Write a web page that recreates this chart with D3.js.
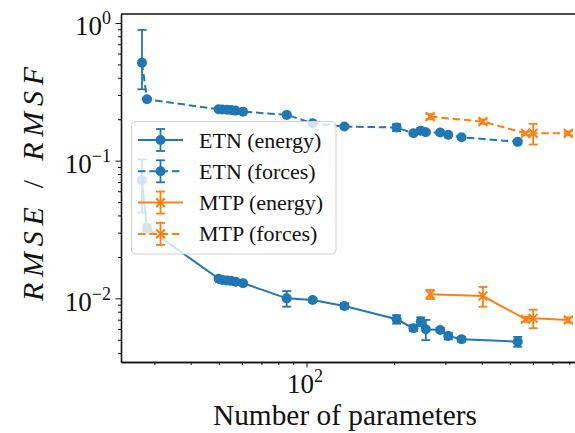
<!DOCTYPE html>
<html><head><meta charset="utf-8">
<script src="https://cdn.jsdelivr.net/npm/d3@7"></script>
<style>
html,body{margin:0;padding:0;background:#fff;}
svg{display:block;}
svg text, svg tspan{font-family:"Liberation Serif","Times New Roman",Tinos,serif !important;}
</style></head><body>
<svg id="chart" width="575" height="433"></svg>
<script>
// Number of parameters of each ETN model
const etnParams = [27.2, 28.3, 49.9, 51.4, 53.3, 55.0, 57.0, 60.5, 85.5, 105, 135, 204, 233, 247, 257, 288, 307, 341, 532];
// Relative energy error (RMSE) of the ETN models
const etnEnergy = [0.072, 0.0325, 0.0139, 0.0136, 0.0135, 0.0134, 0.0132, 0.0129, 0.0100, 0.00974, 0.00881, 0.00705, 0.00607, 0.00678, 0.00597, 0.00590, 0.00533, 0.00505, 0.00485];
const etnEnergyErr = [0.03, 0.002, 0.0003, 0.0003, 0.0003, 0.0003, 0.0003, 0.0003, 0.0013, 0.0003, 0.0004, 0.0005, 0.0003, 0.0005, 0.001, 0.0002, 0.0003, 0.0002, 0.0004];
// Relative force error (RMSF) of the ETN models
const etnForces = [0.515, 0.279, 0.236, 0.235, 0.234, 0.233, 0.231, 0.227, 0.215, 0.187, 0.177, 0.174, 0.158, 0.165, 0.161, 0.160, 0.154, 0.148, 0.137];
const etnForcesErr = [[0.185, 0.375], 0.004, 0.003, 0.003, 0.003, 0.003, 0.003, 0.003, 0.004, 0.003, 0.003, 0.01, 0.004, 0.008, 0.004, 0.003, 0.003, 0.003, 0.004];

// Number of parameters of each MTP model
const mtpParams = [266, 404, 566, 601, 794];
const mtpEnergy = [0.0107, 0.0104, 0.00705, 0.00717, 0.00697];
const mtpEnergyErr = [0.0008, 0.0017, 0.0003, 0.0011, 0.0003];
const mtpForces = [0.209, 0.192, 0.158, 0.158, 0.158];
const mtpForcesErr = [0.009, 0.007, 0.004, 0.027, 0.005];

const seriesNames = ["ETN (energy)", "ETN (forces)", "MTP (energy)", "MTP (forces)"];
const yTickValues = [1, 0.1, 0.01];
const yTickExponents = ["0", "\u22121", "\u22122"];
const xTickValues = [100];
const xTickExponents = ["2"];

const BLUE = "#1f77b4", ORANGE = "#ff7f0e";
const FONT = "Times New Roman";

const svg = d3.select("#chart");
const plotLeft = 121, plotRight = 578, plotTop = 14, plotBottom = 362;

const x = d3.scaleLog().domain([23.04, 857]).range([plotLeft, plotRight]);
const y = d3.scaleLog().domain([0.00345, 1.162]).range([plotBottom, plotTop]);

const isDecade = v => Math.abs(Math.log10(v) - Math.round(Math.log10(v))) < 1e-9;
const xMinor = x.ticks().filter(v => !isDecade(v));
const yMinor = y.ticks().filter(v => !isDecade(v));

// ---- axes ----
const axisColor = "#111";
function styleAxis(g) {
  g.attr("font-family", null);
  g.select(".domain").attr("stroke", axisColor).attr("stroke-width", 1.3);
  g.selectAll(".tick line").attr("stroke", axisColor).attr("stroke-width", 1);
}

const gxMinor = svg.append("g").attr("transform", `translate(0,${plotBottom})`)
  .call(d3.axisBottom(x).tickValues(xMinor).tickSize(3).tickSizeOuter(0).tickFormat(""));
styleAxis(gxMinor);
const gx = svg.append("g").attr("transform", `translate(0,${plotBottom})`)
  .call(d3.axisBottom(x).tickValues(xTickValues).tickSize(5.5).tickSizeOuter(0).tickFormat(""));
styleAxis(gx);
gx.selectAll(".tick").each(function(d, i) {
  const t = d3.select(this).append("text")
    .attr("x", -2).attr("y", 31).attr("text-anchor", "middle")
    .attr("fill", "#111").attr("font-family", FONT).attr("font-size", 27);
  t.append("tspan").text("10");
  t.append("tspan").attr("dy", -11).attr("font-size", 18).text(xTickExponents[i]);
});

const gyMinor = svg.append("g").attr("transform", `translate(${plotLeft},0)`)
  .call(d3.axisLeft(y).tickValues(yMinor).tickSize(3).tickSizeOuter(0).tickFormat(""));
styleAxis(gyMinor);
const gy = svg.append("g").attr("transform", `translate(${plotLeft},0)`)
  .call(d3.axisLeft(y).tickValues(yTickValues).tickSize(5.5).tickSizeOuter(0).tickFormat(""));
styleAxis(gy);
gy.selectAll(".tick").each(function(d, i) {
  const t = d3.select(this).append("text")
    .attr("x", -10).attr("y", 12).attr("text-anchor", "end")
    .attr("fill", "#111").attr("font-family", FONT).attr("font-size", 27);
  t.append("tspan").text("10");
  t.append("tspan").attr("dy", -11).attr("font-size", 18).text(yTickExponents[i]);
});

// top and right spines
svg.append("line").attr("x1", plotLeft).attr("x2", plotRight).attr("y1", plotTop).attr("y2", plotTop)
  .attr("stroke", axisColor).attr("stroke-width", 1.3);
svg.append("line").attr("x1", plotRight).attr("x2", plotRight).attr("y1", plotTop).attr("y2", plotBottom)
  .attr("stroke", axisColor).attr("stroke-width", 1.3);

// axis titles
svg.append("text").attr("x", 345).attr("y", 425)
  .attr("text-anchor", "middle").attr("fill", "#111")
  .attr("font-family", FONT).attr("font-size", 29)
  .attr("textLength", 264).attr("lengthAdjust", "spacingAndGlyphs")
  .text("Number of parameters");

const yl = svg.append("text").attr("transform", "translate(43,184) rotate(-90)")
  .attr("text-anchor", "middle").attr("fill", "#111")
  .attr("font-family", FONT).attr("font-size", 30)
  .attr("textLength", 234).attr("lengthAdjust", "spacing");
yl.append("tspan").attr("font-style", "italic").text("RMSE");
yl.append("tspan").text(" / ");
yl.append("tspan").attr("font-style", "italic").text("RMSF");

// ---- series ----
const plot = svg.append("g");
const errRange = (v, e) => Array.isArray(e) ? [v - e[0], v + e[1]] : [v - e, v + e];

function marker(g, kind, color, cx, cy) {
  if (kind === "o") {
    g.append("circle").attr("cx", cx).attr("cy", cy).attr("r", 5).attr("fill", color);
  } else {
    const s = 4.4;
    g.append("path").attr("d", `M${cx - s},${cy - s}L${cx + s},${cy + s}M${cx - s},${cy + s}L${cx + s},${cy - s}`)
      .attr("stroke", color).attr("stroke-width", 2).attr("fill", "none");
  }
}

function drawSeries(params, values, errs, color, dashed, kind) {
  const data = params.map((p, i) => ({ p, v: values[i], e: errRange(values[i], errs[i]) }));
  const g = plot.append("g");
  g.append("path").datum(data)
    .attr("d", d3.line().x(d => x(d.p)).y(d => y(d.v)))
    .attr("fill", "none").attr("stroke", color).attr("stroke-width", 2)
    .attr("stroke-dasharray", dashed ? "7.5,3.8" : null);
  data.forEach(d => {
    const cx = x(d.p), y0 = y(d.e[0]), y1 = y(d.e[1]);
    g.append("line").attr("x1", cx).attr("x2", cx).attr("y1", y0).attr("y2", y1)
      .attr("stroke", color).attr("stroke-width", 1.8);
    [y0, y1].forEach(cy => g.append("line").attr("x1", cx - 4.5).attr("x2", cx + 4.5)
      .attr("y1", cy).attr("y2", cy).attr("stroke", color).attr("stroke-width", 1.8));
  });
  data.forEach(d => marker(g, kind, color, x(d.p), y(d.v)));
}

const series = [
  { params: etnParams, values: etnEnergy, errs: etnEnergyErr, color: BLUE, dashed: false, kind: "o" },
  { params: etnParams, values: etnForces, errs: etnForcesErr, color: BLUE, dashed: true, kind: "o" },
  { params: mtpParams, values: mtpEnergy, errs: mtpEnergyErr, color: ORANGE, dashed: false, kind: "x" },
  { params: mtpParams, values: mtpForces, errs: mtpForcesErr, color: ORANGE, dashed: true, kind: "x" }
];
series.forEach(s => drawSeries(s.params, s.values, s.errs, s.color, s.dashed, s.kind));

// ---- legend ----
const lg = svg.append("g");
lg.append("rect").attr("x", 131.5).attr("y", 121.5).attr("width", 204.5).attr("height", 132.5)
  .attr("rx", 4).attr("fill", "#fff").attr("fill-opacity", 0.8)
  .attr("stroke", "#d0d0d0").attr("stroke-width", 1);
series.forEach((s, i) => {
  const cy = 140 + i * 31.3;
  const h = lg.append("g");
  h.append("line").attr("x1", 138).attr("x2", 183).attr("y1", cy).attr("y2", cy)
    .attr("stroke", s.color).attr("stroke-width", 2)
    .attr("stroke-dasharray", s.dashed ? "7.5,3.8" : null);
  h.append("line").attr("x1", 160.5).attr("x2", 160.5).attr("y1", cy - 11).attr("y2", cy + 11)
    .attr("stroke", s.color).attr("stroke-width", 1.8);
  [cy - 11, cy + 11].forEach(yy => h.append("line").attr("x1", 156).attr("x2", 165)
    .attr("y1", yy).attr("y2", yy).attr("stroke", s.color).attr("stroke-width", 1.8));
  marker(h, s.kind, s.color, 160.5, cy);
  lg.append("text").attr("x", 199).attr("y", cy + 7.5).attr("fill", "#111")
    .attr("font-family", FONT).attr("font-size", 22).text(seriesNames[i]);
});
</script>
</body></html>
